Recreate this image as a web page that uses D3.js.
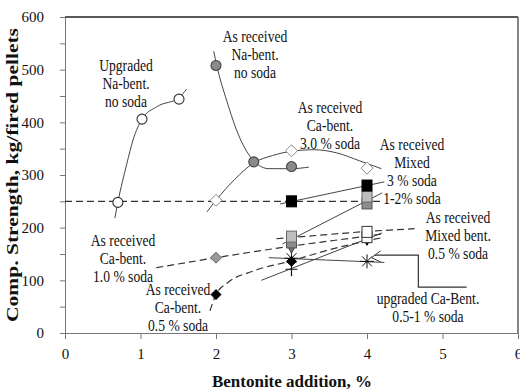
<!DOCTYPE html>
<html>
<head>
<meta charset="utf-8">
<script src="https://cdn.jsdelivr.net/npm/d3@7"></script>
<style>
  body { margin: 0; background: #fff; }
  svg text { font-family: "Liberation Serif", "Times New Roman", serif; fill: #111; }
</style>
</head>
<body>
<div id="chart"></div>
<script>
// values (x = bentonite %, y = kg/pellet)
const xTicks = [0, 1, 2, 3, 4, 5, 6]
const yTicks = [0, 100, 200, 300, 400, 500, 600]

const upNaPts = [[0.7, 248], [1.02, 406], [1.51, 444]]
const upNaFit = [[0.66, 218], [0.7, 248], [0.82, 322], [0.9, 366], [1.02, 406], [1.22, 430], [1.51, 447], [1.61, 463]]

const naRecPts = [[2, 508], [2.5, 325], [3, 316]]
const naRecFit = [[1.97, 535], [2.01, 508], [2.14, 442], [2.31, 372], [2.5, 327], [2.7, 312], [3, 312], [3.23, 315]]

const ca3Pts = [[2, 252], [3, 346], [4, 313]]
const ca3Fit = [[1.88, 230], [2, 252], [2.25, 292], [2.5, 323], [2.75, 337], [3, 345], [3.3, 348], [3.6, 342], [3.9, 327], [4.19, 312]]

const ref250 = [[0, 250], [4.2, 250]]

const mix3Pts = [[3, 250], [4, 280]]
const mix3Fit = [[2.85, 245], [4.23, 287]]

const mix12Light = [[3, 183], [4, 259]]
const mix12Dark = [[3, 172], [4, 246]]
const mix12Fit = [[2.88, 169], [4.2, 266]]

const ca10Pts = [[2, 143]]
const ca10Fit = [[1.21, 124], [2, 143], [3, 165], [4, 184], [4.2, 188]]

const mixHalfPts = [[4, 182], [4, 192]]
const mixHalfFit = [[2.8, 179], [4, 193], [4.63, 198]]

const ca05Pts = [[2, 73], [3, 136]]
const ca05Tri = [[4, 176]]
const ca05Fit = [[1.92, 42], [2, 73], [2.15, 95], [2.5, 118], [3, 137], [3.5, 158], [4, 175], [4.2, 181]]

const grayTri = [[3, 161]]

const upCaPts = [[3, 142], [4, 136]]
const upCaFit = [[2.7, 143], [4.23, 134]]

const plusPts = [[3, 121]]
const plusFit = [[2.6, 100], [4.2, 190]]

const arrowPath = [[5.32, 87], [4.68, 87], [4.68, 148], [4.1, 148]]
const arrowHead = [[4.18, 156], [4.06, 143], [4.18, 135]]

const labels = [
    { lines: ["Upgraded", "Na-bent.", "no soda"], x: 126, y: 71 },
    { lines: ["As received", "Na-bent.", "no soda"], x: 255, y: 42 },
    { lines: ["As received", "Ca-bent.", "3.0 % soda"], x: 330, y: 113 },
    { lines: ["As received", "Mixed", "3 % soda", "1-2% soda"], x: 412, y: 150 },
    { lines: ["As received", "Mixed bent.", "0.5 % soda"], x: 458, y: 223 },
    { lines: ["upgraded Ca-Bent.", "0.5-1 % soda"], x: 428, y: 304 },
    { lines: ["As received", "Ca-bent.", "1.0 % soda"], x: 123, y: 246 },
    { lines: ["As received", "Ca-bent.", "0.5 % soda"], x: 178, y: 295 }
]

const width = 520
const height = 391
const svg = d3.select("#chart").append("svg")
    .attr("width", width)
    .attr("height", height)

const x = d3.scaleLinear().domain([0, 6]).range([65, 518])
const y = d3.scaleLinear().domain([0, 600]).range([333, 17])

// frame
svg.append("line").attr("x1", x(0)).attr("x2", x(6)).attr("y1", y(600)).attr("y2", y(600))
    .attr("stroke", "#222").attr("stroke-width", 1.3)
svg.append("line").attr("x1", x(6)).attr("x2", x(6)).attr("y1", y(600)).attr("y2", y(0))
    .attr("stroke", "#444").attr("stroke-width", 1.3)

// axes
const yAxis = svg.append("g").attr("transform", `translate(${x(0)},0)`)
    .call(d3.axisLeft(y).tickValues(d3.range(0, 601, 50)).tickSize(5).tickSizeOuter(0)
        .tickFormat(d => yTicks.includes(d) ? d : ""))
const xAxis = svg.append("g").attr("transform", `translate(0,${y(0)})`)
    .call(d3.axisBottom(x).tickValues(xTicks).tickSize(6).tickSizeOuter(0).tickFormat(d3.format("d")))
for (const ax of [xAxis, yAxis]) {
    ax.select(".domain").attr("stroke", "#777")
    ax.selectAll(".tick line").attr("stroke", "#777")
    ax.selectAll(".tick text").attr("font-family", "Liberation Serif").attr("font-size", 15).attr("fill", "#111")
}
yAxis.selectAll(".tick text").attr("x", -21)
xAxis.selectAll(".tick text").attr("y", 15)

svg.append("text")
    .attr("x", 292).attr("y", 387)
    .attr("text-anchor", "middle")
    .attr("font-weight", "bold").attr("font-size", 17)
    .text("Bentonite addition, %")

svg.append("text")
    .attr("transform", "translate(18,175) rotate(-90)")
    .attr("text-anchor", "middle")
    .attr("font-weight", "bold").attr("font-size", 17)
    .attr("textLength", 294).attr("lengthAdjust", "spacingAndGlyphs")
    .text("Comp.  Strength, kg/fired pellets")

// lines
const curve = d3.line().x(d => x(d[0])).y(d => y(d[1])).curve(d3.curveMonotoneX)
const straight = d3.line().x(d => x(d[0])).y(d => y(d[1]))

function path(data, gen, dashed) {
    svg.append("path").datum(data)
        .attr("d", gen)
        .attr("fill", "none")
        .attr("stroke", dashed ? "#333" : "#444")
        .attr("stroke-width", dashed ? 1.2 : 1)
        .attr("stroke-dasharray", dashed ? "7,4" : null)
}

path(ref250, straight, true)
path(upNaFit, curve, false)
path(naRecFit, curve, false)
path(ca3Fit, curve, false)
path(ca10Fit, curve, true)
path(ca05Fit, curve, true)
path(mixHalfFit, straight, true)
path(plusFit, straight, false)
path(upCaFit, straight, false)
path(mix12Fit, straight, false)
path(mix3Fit, straight, false)

// markers
const g = svg.append("g")
function circles(data, fill, stroke) {
    g.selectAll(null).data(data).enter().append("circle")
        .attr("cx", d => x(d[0])).attr("cy", d => y(d[1])).attr("r", 5)
        .attr("fill", fill).attr("stroke", stroke).attr("stroke-width", 1.1)
}
function diamonds(data, fill, stroke, s) {
    g.selectAll(null).data(data).enter().append("path")
        .attr("d", d => `M${x(d[0])},${y(d[1]) - s}L${x(d[0]) + s},${y(d[1])}L${x(d[0])},${y(d[1]) + s}L${x(d[0]) - s},${y(d[1])}Z`)
        .attr("fill", fill).attr("stroke", stroke).attr("stroke-width", 1)
}
function squares(data, fill, stroke) {
    g.selectAll(null).data(data).enter().append("rect")
        .attr("x", d => x(d[0]) - 5).attr("y", d => y(d[1]) - 5.5)
        .attr("width", 10).attr("height", 11)
        .attr("fill", fill).attr("stroke", stroke).attr("stroke-width", 1)
}
function triangles(data, fill, stroke) {
    g.selectAll(null).data(data).enter().append("path")
        .attr("d", d => `M${x(d[0]) - 5},${y(d[1]) - 4}L${x(d[0]) + 5},${y(d[1]) - 4}L${x(d[0])},${y(d[1]) + 5}Z`)
        .attr("fill", fill).attr("stroke", stroke).attr("stroke-width", 1)
}
function stars(data) {
    g.selectAll(null).data(data).enter().append("path")
        .attr("d", d => {
            const cx = x(d[0]), cy = y(d[1]), r = 7
            let s = ""
            for (let a = 0; a < 180; a += 45) {
                const dx = r * Math.cos(a * Math.PI / 180), dy = r * Math.sin(a * Math.PI / 180)
                s += `M${cx - dx},${cy - dy}L${cx + dx},${cy + dy}`
            }
            return s
        })
        .attr("stroke", "#111").attr("stroke-width", 1)
}
function pluses(data) {
    g.selectAll(null).data(data).enter().append("path")
        .attr("d", d => `M${x(d[0]) - 6},${y(d[1])}H${x(d[0]) + 6}M${x(d[0])},${y(d[1]) - 7}V${y(d[1]) + 7}`)
        .attr("stroke", "#111").attr("stroke-width", 1.2)
}

circles(upNaPts, "#fff", "#333")
circles(naRecPts, "#8a8a8a", "#444")
diamonds(ca3Pts, "#fff", "#888", 6)
pluses(plusPts)
stars(upCaPts)
diamonds(ca05Pts, "#000", "#000", 5)
triangles(ca05Tri, "#000", "#000")
squares(mixHalfPts, "#fff", "#333")
triangles(grayTri, "#777", "#444")
diamonds(ca10Pts, "#999", "#666", 5.5)
squares(mix12Dark, "#8c8c8c", "#555")
squares(mix12Light, "#bdbdbd", "#666")
squares(mix3Pts, "#000", "#000")

// arrow to the upgraded Ca-bent label
svg.append("path").datum(arrowPath).attr("d", straight)
    .attr("fill", "none").attr("stroke", "#333").attr("stroke-width", 1.2)
svg.append("path").datum(arrowHead).attr("d", straight)
    .attr("fill", "none").attr("stroke", "#333").attr("stroke-width", 1)

// annotations
for (const lab of labels) {
    lab.lines.forEach((t, i) => {
        svg.append("text")
            .attr("transform", `translate(${lab.x},${lab.y + i * 18}) scale(0.85,1)`)
            .attr("text-anchor", "middle")
            .attr("font-size", 16)
            .text(t)
    })
}
</script>
</body>
</html>
